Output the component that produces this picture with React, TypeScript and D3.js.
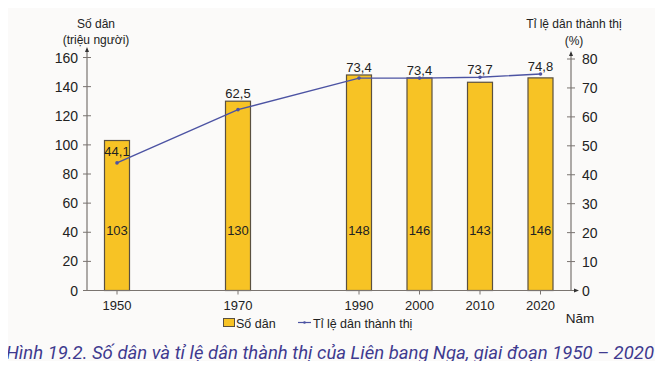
import React from "react";
import * as d3 from "d3";

const years = [1950, 1970, 1990, 2000, 2010, 2020];
const population = [103, 130, 148, 146, 143, 146];
const urbanRate = [44.1, 62.5, 73.4, 73.4, 73.7, 74.8];
const leftTicks = [0, 20, 40, 60, 80, 100, 120, 140, 160];
const rightTicks = [0, 10, 20, 30, 40, 50, 60, 70, 80];

const W = 663;
const H = 369;
const FONT = "'Liberation Sans', Arial, sans-serif";

export default function App() {
  const x = d3.scaleLinear().domain([1950, 2020]).range([117, 540.5]);
  const yL = d3.scaleLinear().domain([0, 160]).range([290.5, 57.5]);
  const yR = d3.scaleLinear().domain([0, 80]).range([290.5, 59]);
  const barW = 25;
  const line = d3
    .line<number>()
    .x((_, i) => x(years[i]))
    .y((d) => yR(d));
  const axisL = 87;
  const axisR = 571;
  const base = 290.5;
  const textCol = "#222";
  const axisCol = "#7a7470";

  return (
    <div style={{ margin: -8 }}>
      <svg width={W} height={H} style={{ display: "block", background: "#fbfaf9" }}>
        {/* axis titles */}
        <text x={96} y={28} fontFamily={FONT} fontSize={12} fill={textCol} textAnchor="middle">Số dân</text>
        <text x={96} y={44} fontFamily={FONT} fontSize={12} fill={textCol} textAnchor="middle">(triệu người)</text>
        <text x={574} y={28} fontFamily={FONT} fontSize={12} fill={textCol} textAnchor="middle">Tỉ lệ dân thành thị</text>
        <text x={574} y={45} fontFamily={FONT} fontSize={12} fill={textCol} textAnchor="middle">(%)</text>

        {/* bars */}
        {years.map((yr, i) => (
          <rect
            key={yr}
            x={x(yr) - barW / 2}
            y={yL(population[i])}
            width={barW}
            height={base - yL(population[i])}
            fill="#f7c325"
            stroke="#5a5040"
            strokeWidth={1.2}
          />
        ))}
        {/* bar value labels */}
        {years.map((yr, i) => (
          <text key={"p" + yr} x={x(yr)} y={235} fontFamily={FONT} fontSize={13} fill={textCol} textAnchor="middle">
            {population[i]}
          </text>
        ))}

        {/* left axis */}
        <line x1={axisL} x2={axisL} y1={base} y2={49} stroke={axisCol} strokeWidth={1.2} />
        <path d={`M${axisL - 2},${52} L${axisL},${47} L${axisL + 2},${52} Z`} fill="#333" />
        {leftTicks.map((t) => (
          <g key={"l" + t}>
            <line x1={axisL - 4} x2={axisL + 4} y1={yL(t)} y2={yL(t)} stroke={axisCol} strokeWidth={1} />
            <text x={78} y={yL(t) + 5} fontFamily={FONT} fontSize={14} fill={textCol} textAnchor="end">{t}</text>
          </g>
        ))}

        {/* right axis */}
        <line x1={axisR} x2={axisR} y1={base} y2={53} stroke={axisCol} strokeWidth={1.2} />
        <path d={`M${axisR - 2},${56} L${axisR},${51} L${axisR + 2},${56} Z`} fill="#333" />
        {rightTicks.map((t) => (
          <g key={"r" + t}>
            <line x1={axisR - 4} x2={axisR + 4} y1={yR(t)} y2={yR(t)} stroke={axisCol} strokeWidth={1} />
            <text x={582} y={yR(t) + 5} fontFamily={FONT} fontSize={14} fill={textCol} textAnchor="start">{t}</text>
          </g>
        ))}

        {/* x axis */}
        <line x1={axisL} x2={575} y1={base} y2={base} stroke={axisCol} strokeWidth={1.2} />
        <path d={`M${574},${base - 2} L${579},${base} L${574},${base + 2} Z`} fill="#333" />
        {years.map((yr) => (
          <g key={"x" + yr}>
            <line x1={x(yr)} x2={x(yr)} y1={base} y2={base + 4} stroke={axisCol} strokeWidth={1} />
            <text x={x(yr)} y={310} fontFamily={FONT} fontSize={13} fill={textCol} textAnchor="middle">{yr}</text>
          </g>
        ))}
        <text x={580} y={323} fontFamily={FONT} fontSize={13.5} fill={textCol} textAnchor="middle">Năm</text>

        {/* urban line */}
        <path d={line(urbanRate) || ""} fill="none" stroke="#4c53a3" strokeWidth={1.4} />
        {years.map((yr, i) => (
          <circle key={"c" + yr} cx={x(yr)} cy={yR(urbanRate[i])} r={1.8} fill="#4c53a3" />
        ))}
        {years.map((yr, i) => {
          const top = yL(population[i]);
          const pt = yR(urbanRate[i]);
          const inside = pt - top > 15;
          const yy = inside ? top + 15 : Math.min(top, pt) - 3;
          return (
            <text key={"u" + yr} x={x(yr)} y={yy} fontFamily={FONT} fontSize={13} fill={textCol} textAnchor="middle">
              {String(urbanRate[i]).replace(".", ",")}
            </text>
          );
        })}

        {/* legend */}
        <rect x={223.5} y={318.5} width={11} height={8} fill="#f7c325" stroke="#5a5040" strokeWidth={1} />
        <text x={236} y={327.5} fontFamily={FONT} fontSize={12.5} fill={textCol}>Số dân</text>
        <line x1={298} x2={311} y1={322.5} y2={322.5} stroke="#4c53a3" strokeWidth={1.2} />
        <circle cx={304.5} cy={322.5} r={1.3} fill="#4c53a3" />
        <text x={313} y={327.5} fontFamily={FONT} fontSize={12.5} fill={textCol}>Tỉ lệ dân thành thị</text>

        {/* caption */}
        <text
          x={6}
          y={359}
          fontFamily="Roboto, 'Noto Sans', sans-serif"
          fontStyle="italic"
          fontSize={18.5}
          fill="#3f3a8f"
          textLength={648}
          lengthAdjust="spacingAndGlyphs"
        >
          Hình 19.2. Số dân và tỉ lệ dân thành thị của Liên bang Nga, giai đoạn 1950 – 2020
        </text>
      </svg>
    </div>
  );
}
